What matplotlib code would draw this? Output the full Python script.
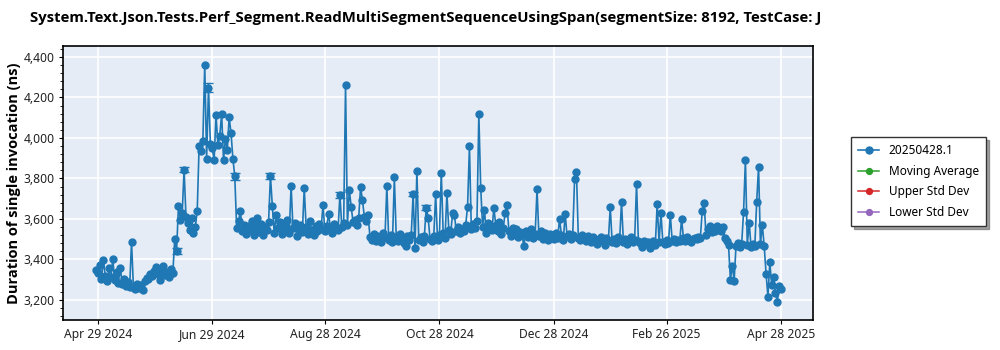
import pandas as pd
import matplotlib
matplotlib.use("Agg")
import matplotlib.pyplot as plt
import matplotlib.dates as mdates
from matplotlib import font_manager
from matplotlib.ticker import FuncFormatter, MultipleLocator

plt.rcParams['font.family'] = ['Noto Sans', 'DejaVu Sans']

TITLE = "System.Text.Json.Tests.Perf_Segment.ReadMultiSegmentSequenceUsingSpan(segmentSize: 8192, TestCase: J"
SERIES_NAME = "20250428.1"
OTHER_SERIES = ["Moving Average", "Upper Std Dev", "Lower Std Dev"]

# one run per day, 2024-04-28 .. 2025-04-28 (ns)
durations = [
    3348, 3335, 3372, 3305, 3398, 3318, 3292, 3356, 3311, 3403,
    3297, 3340, 3286, 3360, 3279, 3301, 3268, 3290, 3262, 3488,
    3266, 3252, 3281, 3259, 3274, 3248, 3295, 3310, 3302, 3326,
    3318, 3341, 3362, 3329, 3297, 3345, 3366, 3322, 3338, 3311,
    3352, 3331, 3500, 3442, 3665, 3596, 3630, 3843, 3612, 3578,
    3545, 3603, 3532, 3560, 3641, 3958, 3935, 3986, 4362, 3897,
    4247, 3972, 3948, 3892, 4115, 3965, 4010, 4120, 3889, 3995,
    3941, 4101, 4025, 3898, 3810, 3556, 3590, 3638, 3541, 3572,
    3528, 3566, 3547, 3590, 3521, 3558, 3603, 3537, 3574, 3519,
    3561, 3545, 3584, 3813, 3664, 3532, 3620, 3553, 3586, 3524,
    3568, 3541, 3596, 3530, 3763, 3557, 3579, 3518, 3549, 3572,
    3536, 3752, 3561, 3527, 3588, 3547, 3520, 3563, 3541, 3574,
    3552, 3671, 3538, 3566, 3625, 3549, 3530, 3575, 3558, 3544,
    3719, 3562, 3578, 4261, 3571, 3744, 3660, 3584, 3596, 3570,
    3605, 3757, 3694, 3612, 3588, 3620, 3513, 3497, 3524, 3490,
    3518, 3502, 3486, 3531, 3509, 3763, 3495, 3520, 3488, 3805,
    3512, 3493, 3527, 3501, 3480, 3464, 3515, 3498, 3522, 3724,
    3457, 3839, 3496, 3509, 3485, 3518, 3656, 3607, 3502, 3490,
    3514, 3722, 3497, 3521, 3829, 3532, 3508, 3727, 3546, 3525,
    3627, 3618, 3541, 3560, 3529, 3552, 3538, 3571, 3660, 3958,
    3548, 3575, 3556, 3590, 4116, 3755, 3562, 3643, 3533, 3581,
    3560, 3546, 3654, 3572, 3539, 3585, 3528, 3553, 3630, 3670,
    3541, 3518, 3556, 3527, 3549, 3509, 3535, 3522, 3464, 3540,
    3512, 3531, 3548, 3505, 3526, 3746, 3517, 3538, 3501, 3529,
    3510, 3495, 3528, 3517, 3503, 3532, 3506, 3600, 3521, 3498,
    3625, 3514, 3527, 3502, 3519, 3797, 3831, 3508, 3495, 3523,
    3511, 3490, 3516, 3503, 3485, 3509, 3496, 3478, 3502, 3513,
    3491, 3473, 3506, 3494, 3658, 3487, 3500, 3482, 3509, 3495,
    3686, 3488, 3503, 3476, 3492, 3510, 3484, 3498, 3773, 3489,
    3480, 3462, 3491, 3475, 3486, 3458, 3479, 3493, 3470, 3675,
    3484, 3628, 3488, 3477, 3495, 3482, 3620, 3490, 3503, 3486,
    3498, 3489, 3600, 3505, 3493, 3510, 3496, 3487, 3502, 3508,
    3499, 3512, 3506, 3641, 3681, 3520, 3548, 3563, 3537, 3556,
    3542, 3566, 3551, 3538, 3560, 3505, 3492, 3472, 3299, 3370,
    3296, 3468, 3481, 3460, 3475, 3632, 3892, 3470, 3582, 3463,
    3478, 3466, 3684, 3858, 3474, 3572, 3467, 3330, 3216, 3385,
    3275, 3313, 3236, 3192, 3268, 3252,
]
dates = pd.date_range("2024-04-28", "2025-04-28", freq="D")

# runs with a visible spread
err_idx = [43, 47, 60, 74, 93, 130, 169, 176]
err_size = [14, 12, 22, 18, 15, 14, 10, 14]

tick_dates = ["2024-04-29", "2024-06-29", "2024-08-28", "2024-10-28",
              "2024-12-28", "2025-02-26", "2025-04-28"]

blue = "#1f77b4"
legend_colors = ["#2ca02c", "#d62728", "#9467bd"]

# pick a family that really ships a bold face
bold_family = "DejaVu Sans"
for fam in ["Open Sans", "Lato", "Noto Sans", "Roboto"]:
    fonts = [f for f in font_manager.fontManager.ttflist if f.name == fam]
    if any(f.weight in (600, 700, "bold", "semibold") for f in fonts):
        bold_family = fam
        break

fig = plt.figure(figsize=(10, 3.5), dpi=100)
ax = fig.add_axes([0.063, 0.0857, 0.750, 0.783])
ax.set_facecolor("#e5ecf6")

ax.plot(dates, durations, color=blue, lw=1.2, marker="o", ms=5.0,
        mec=blue, mfc=blue, label=SERIES_NAME, zorder=3)
ax.errorbar([dates[i] for i in err_idx], [durations[i] for i in err_idx],
            yerr=err_size, fmt="none", ecolor=blue, elinewidth=1,
            capsize=3.5, capthick=1, zorder=3)
for name, c in zip(OTHER_SERIES, legend_colors):
    ax.plot([], [], color=c, lw=1.1, marker="o", ms=4.2, label=name)

ax.set_ylim(3101, 4454)
ax.set_xlim(pd.Timestamp("2024-04-10 12:00"), pd.Timestamp("2025-05-15"))
ax.yaxis.set_major_locator(MultipleLocator(200))
ax.yaxis.set_minor_locator(MultipleLocator(40))
ax.yaxis.set_major_formatter(FuncFormatter(lambda v, p: f"{v:,.0f}"))
ax.set_xticks([pd.Timestamp(d) for d in tick_dates])
ax.xaxis.set_major_formatter(mdates.DateFormatter("%b %d %Y"))

ax.grid(True, color="white", lw=1.2)
ax.set_axisbelow(True)
for s in ax.spines.values():
    s.set_color("black")
    s.set_linewidth(1.2)
ax.tick_params(axis="both", which="major", length=3, labelsize=8.7, colors="black",
               labelcolor="#222222", pad=3)
ax.tick_params(axis="y", which="minor", length=2)

ax.set_ylabel("Duration of single invocation (ns)", fontsize=10.5,
              fontweight="bold", family=bold_family, labelpad=2)
fig.text(0.030, 0.949, TITLE, fontsize=10.7, fontweight="bold",
         family=bold_family, va="center", ha="left")

fig.legend(loc="center left", bbox_to_anchor=(0.845, 0.481), fontsize=8.5,
           frameon=True, fancybox=False, shadow=True, edgecolor="#333333",
           handlelength=1.8, borderpad=0.6, labelspacing=0.65)

fig.savefig("out.png", dpi=100)
